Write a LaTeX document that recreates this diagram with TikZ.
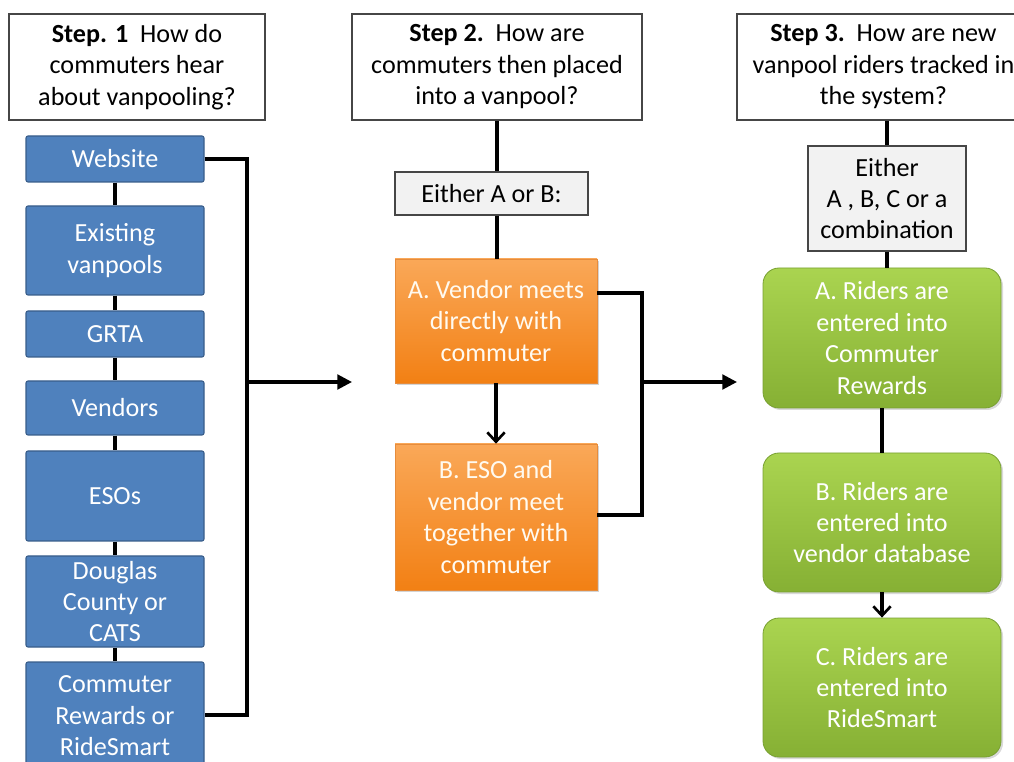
\documentclass[tikz,border=0pt]{standalone}
\usepackage{fontspec}
\setmainfont{Carlito}
\usetikzlibrary{arrows.meta,shadows}
\definecolor{bluefill}{RGB}{79,129,189}
\definecolor{blueedge}{RGB}{56,93,138}
\definecolor{orTop}{RGB}{250,168,88}
\definecolor{orBot}{RGB}{242,128,20}
\definecolor{orEdge}{RGB}{230,140,60}
\definecolor{grTop}{RGB}{170,212,80}
\definecolor{grBot}{RGB}{134,176,52}
\definecolor{grEdge}{RGB}{120,160,50}
\definecolor{grayfill}{RGB}{242,242,242}
\definecolor{grayedge}{RGB}{70,70,70}
\definecolor{softwhite}{RGB}{255,250,240}
\tikzset{
  x=0.75pt, y=-0.75pt,
  txt/.style={font=\fontsize{19.6}{23.6}\selectfont, align=center, inner sep=0pt},
  stepbox/.style={txt, draw=grayedge, line width=0.8pt, fill=white},
  graybox/.style={txt, draw=grayedge, line width=0.8pt, fill=grayfill},
  bluebox/.style={txt, text=white, fill=bluefill, draw=blueedge, line width=0.8pt,
    rounded corners=1.5pt, minimum width=133.5pt},
  orbox/.style={txt, text=softwhite, top color=orTop, bottom color=orBot, draw=orEdge,
    line width=0.5pt, minimum width=151.5pt,
    drop shadow={opacity=0.35, shadow xshift=1.5pt, shadow yshift=-1.5pt}},
  grbox/.style={txt, text=white, top color=grTop, bottom color=grBot, draw=grEdge,
    line width=0.6pt, rounded corners=12pt, minimum width=178.5pt,
    drop shadow={opacity=0.3, shadow xshift=1.5pt, shadow yshift=-1.5pt}},
  conn/.style={line width=2.3pt, black},
  bigarrow/.style={conn, -{Triangle[length=11pt,width=11pt]}},
  downarrow/.style={conn, -{Straight Barb[length=7pt,width=13pt,line width=2pt]}},
}
\begin{document}
\begin{tikzpicture}
\useasboundingbox (0,0) rectangle (1014,762);
% Step boxes
\node[stepbox, minimum width=192pt, minimum height=79.5pt] (s1) at (137,67)
  {\textbf{Step. 1}\ \ How do\\commuters hear\\about vanpooling?};
\node[stepbox, minimum width=217.5pt, minimum height=79.5pt] (s2) at (497,67)
  {\textbf{Step 2.}\ \ How are\\commuters then placed\\into a vanpool?};
\node[stepbox, minimum width=219.75pt, minimum height=79.5pt] (s3) at (883.5,67)
  {\textbf{Step 3.}\ \ How are new\\vanpool riders tracked in\\the system?};
% Column 1
\node[bluebox, minimum height=34.5pt] (b1) at (115,159) {Website};
\node[bluebox, minimum height=66.75pt] (b2) at (115,250.5) {Existing\\vanpools};
\node[bluebox, minimum height=34.5pt] (b3) at (115,334) {GRTA};
\node[bluebox, minimum height=40.5pt] (b4) at (115,408) {Vendors};
\node[bluebox, minimum height=67.5pt] (b5) at (115,496) {ESOs};
\node[bluebox, minimum height=68.25pt] (b6) at (115,601.5) {Douglas\\County or\\CATS};
\node[bluebox, minimum height=81pt] (b7) at (115,716) {Commuter\\Rewards or\\RideSmart};
\foreach \a/\b in {b1/b2,b2/b3,b3/b4,b4/b5,b5/b6,b6/b7}
  \draw[conn] (\a.south) -- (\b.north);
\coordinate (j1top) at (247,159);
\coordinate (j1bot) at (247,715);
\coordinate (j1) at (247,382);
\coordinate (t1) at (352,382);
\draw[conn] (b1.east |- j1top) -- (j1top) -- (j1bot) -- (b7.east |- j1bot);
\draw[bigarrow] (j1) -- (t1);
% Column 2
\node[graybox, minimum width=144.75pt, minimum height=32.25pt] (e2) at (491.5,193.5) {Either A or B:};
\node[orbox, minimum height=93pt] (oA) at (496,321) {A. Vendor meets\\directly with\\commuter};
\node[orbox, minimum height=109.5pt] (oB) at (496,517) {B. ESO and\\vendor meet\\together with\\commuter};
\draw[conn] (s2.south) -- (s2.south |- e2.north);
\draw[conn] (s2.south |- e2.south) -- (s2.south |- oA.north);
\draw[downarrow] (oA.south) -- (oB.north);
\coordinate (j2top) at (642,293);
\coordinate (j2bot) at (642,515);
\coordinate (j2) at (642,382);
\coordinate (t2) at (737,382);
\draw[conn] (oA.east |- j2top) -- (j2top) -- (j2bot) -- (oB.east |- j2bot);
\draw[bigarrow] (j2) -- (t2);
% Column 3
\node[graybox, minimum width=118.5pt, minimum height=78.75pt] (e3) at (887,198.5) {Either\\A , B, C or a\\combination};
\node[grbox, minimum height=105pt] (gA) at (882,338) {A. Riders are\\entered into\\Commuter\\Rewards};
\node[grbox, minimum height=104.25pt] (gB) at (882,522.5) {B. Riders are\\entered into\\vendor database};
\node[grbox, minimum height=104.25pt] (gC) at (882,687.5) {C. Riders are\\entered into\\RideSmart};
\draw[conn] (s3.south -| e3.north) -- (e3.north);
\draw[conn] (e3.south) -- (e3.south |- gA.north);
\draw[conn] (gA.south) -- (gB.north);
\draw[downarrow] (gB.south) -- (gC.north);
\end{tikzpicture}
\end{document}
